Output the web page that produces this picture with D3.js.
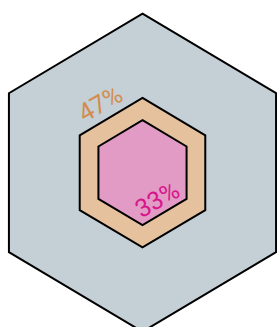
<!DOCTYPE html>
<meta charset="utf-8">
<head>
  <meta charset="utf-8">
  <title>nested hexagons</title>
  <script src="https://d3js.org/d3.v7.min.js"></script>
</head>
<style>
body {margin:0; background:#fff;}
.hex {stroke:#000; stroke-width:2px;}
.lbl {font-family:Roboto, "Noto Sans", sans-serif; font-size:25px;}
</style>
<body>
<script>

// values as percent of the outer hexagon
var names = ["total", "outer", "inner"];
var values = [100, 47, 33];
var labels = ["", "47%", "33%"];
var fills = ["#c4cfd6", "#e6c19e", "#e19bc5"];
var textColors = ["none", "#d48c4d", "#d8168c"];

var width = 277, height = 327;
var cx = 142.5, cy = 172.7;

var svg = d3.select("body").append("svg")
    .attr("width", width)
    .attr("height", height);

// radius is proportional to the value
var r = d3.scaleLinear().domain([0, 100]).range([0, 159]);

// pointy-top hexagon, slightly narrower than regular
function corners(rad) {
  var pts = [];
  for (var i = 0; i < 6; i++) {
    var a = Math.PI / 180 * (60 * i - 90);
    pts.push([cx + rad * Math.cos(a) * 0.97, cy + rad * Math.sin(a)]);
  }
  return pts;
}

var line = d3.line().curve(d3.curveLinearClosed);

svg.selectAll(".hex")
    .data(values)
  .enter().append("path")
    .attr("class", "hex")
    .attr("fill", function(d, i) { return fills[i]; })
    .attr("d", function(d) { return line(corners(r(d))); });

// 47% sits outside the upper-left edge, 33% inside the lower-right edge
svg.selectAll(".lbl")
    .data(values.slice(1))
  .enter().append("text")
    .attr("class", "lbl")
    .attr("fill", function(d, i) { return textColors[i + 1]; })
    .attr("text-anchor", "middle")
    .attr("transform", function(d, i) {
      var p = corners(r(d));
      var a, b, dx, off;
      if (i == 0) { a = p[5]; b = p[0]; dx = -3; off = -8; }
      else { a = p[3]; b = p[2]; dx = 0; off = -6; }
      var mx = (a[0] + b[0]) / 2, my = (a[1] + b[1]) / 2;
      return "translate(" + mx + "," + my + ") rotate(-30) translate(" + dx + "," + off + ")";
    })
    .text(function(d, i) { return labels[i + 1]; });

</script>
</body>
